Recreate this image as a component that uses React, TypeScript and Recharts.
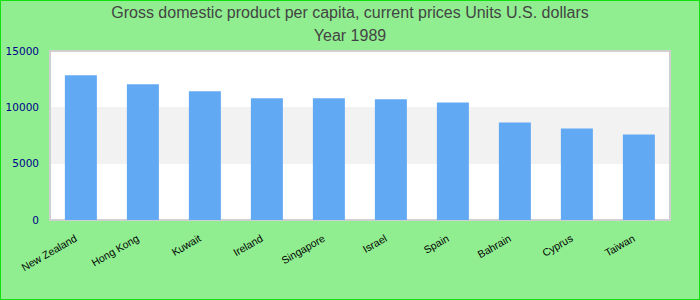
import { BarChart, Bar, XAxis, YAxis, CartesianGrid, ReferenceArea } from "recharts";

const countries = [
  "New Zealand",
  "Hong Kong",
  "Kuwait",
  "Ireland",
  "Singapore",
  "Israel",
  "Spain",
  "Bahrain",
  "Cyprus",
  "Taiwan",
];
const gdpPerCapita = [12850, 12050, 11430, 10800, 10800, 10710, 10440, 8660, 8120, 7590];
const yTicks = [0, 5000, 10000, 15000];

const titleLines = ["Gross domestic product per capita, current prices Units U.S. dollars", "Year 1989"];

const data = countries.map((name, i) => ({ name, value: gdpPerCapita[i] }));

export default function App() {
  return (
    <div
      style={{
        position: "fixed",
        left: 0,
        top: 0,
        width: 700,
        height: 300,
        background: "#90ee90",
        fontFamily: "'Liberation Sans', Arial, sans-serif",
      }}
    >
      {titleLines.map((t, i) => (
        <div
          key={t}
          style={{
            position: "absolute",
            left: 0,
            width: 700,
            top: 4 + i * 23,
            textAlign: "center",
            fontSize: 16,
            color: "#444",
            lineHeight: "18px",
          }}
        >
          {t}
        </div>
      ))}
      <BarChart
        width={700}
        height={300}
        data={data}
        margin={{ top: 51, right: 30, left: 0, bottom: 0 }}
        barCategoryGap="24%"
      >
        <CartesianGrid
          vertical={false}
          stroke="transparent"
          fill="#fff"
          horizontalFill={["#fff", "#f2f2f2"]}
        />
        <XAxis
          dataKey="name"
          interval={0}
          height={80}
          tickLine={false}
          axisLine={false}
          tick={{
            angle: -30,
            textAnchor: "end",
            fontSize: 10.5,
            fill: "#000",
            dx: -7,
            dy: 6,
            fontFamily: "'Liberation Sans', Arial, sans-serif",
          }}
        />
        <YAxis
          width={50}
          domain={[0, 15000]}
          ticks={yTicks}
          tickLine={false}
          axisLine={false}
          tickSize={9}
          tick={{ fontSize: 10.5, fill: "#00008b", fontFamily: "'DejaVu Sans', sans-serif" }}
        />
        <Bar dataKey="value" fill="#62a9f4" isAnimationActive={false} />
        <ReferenceArea y1={0} y2={15000} fill="none" stroke="#d0d0d0" strokeWidth={2} />
      </BarChart>
      <div
        style={{
          position: "absolute",
          inset: 0,
          border: "1px solid #11e011",
          boxSizing: "border-box",
          pointerEvents: "none",
        }}
      />
    </div>
  );
}
